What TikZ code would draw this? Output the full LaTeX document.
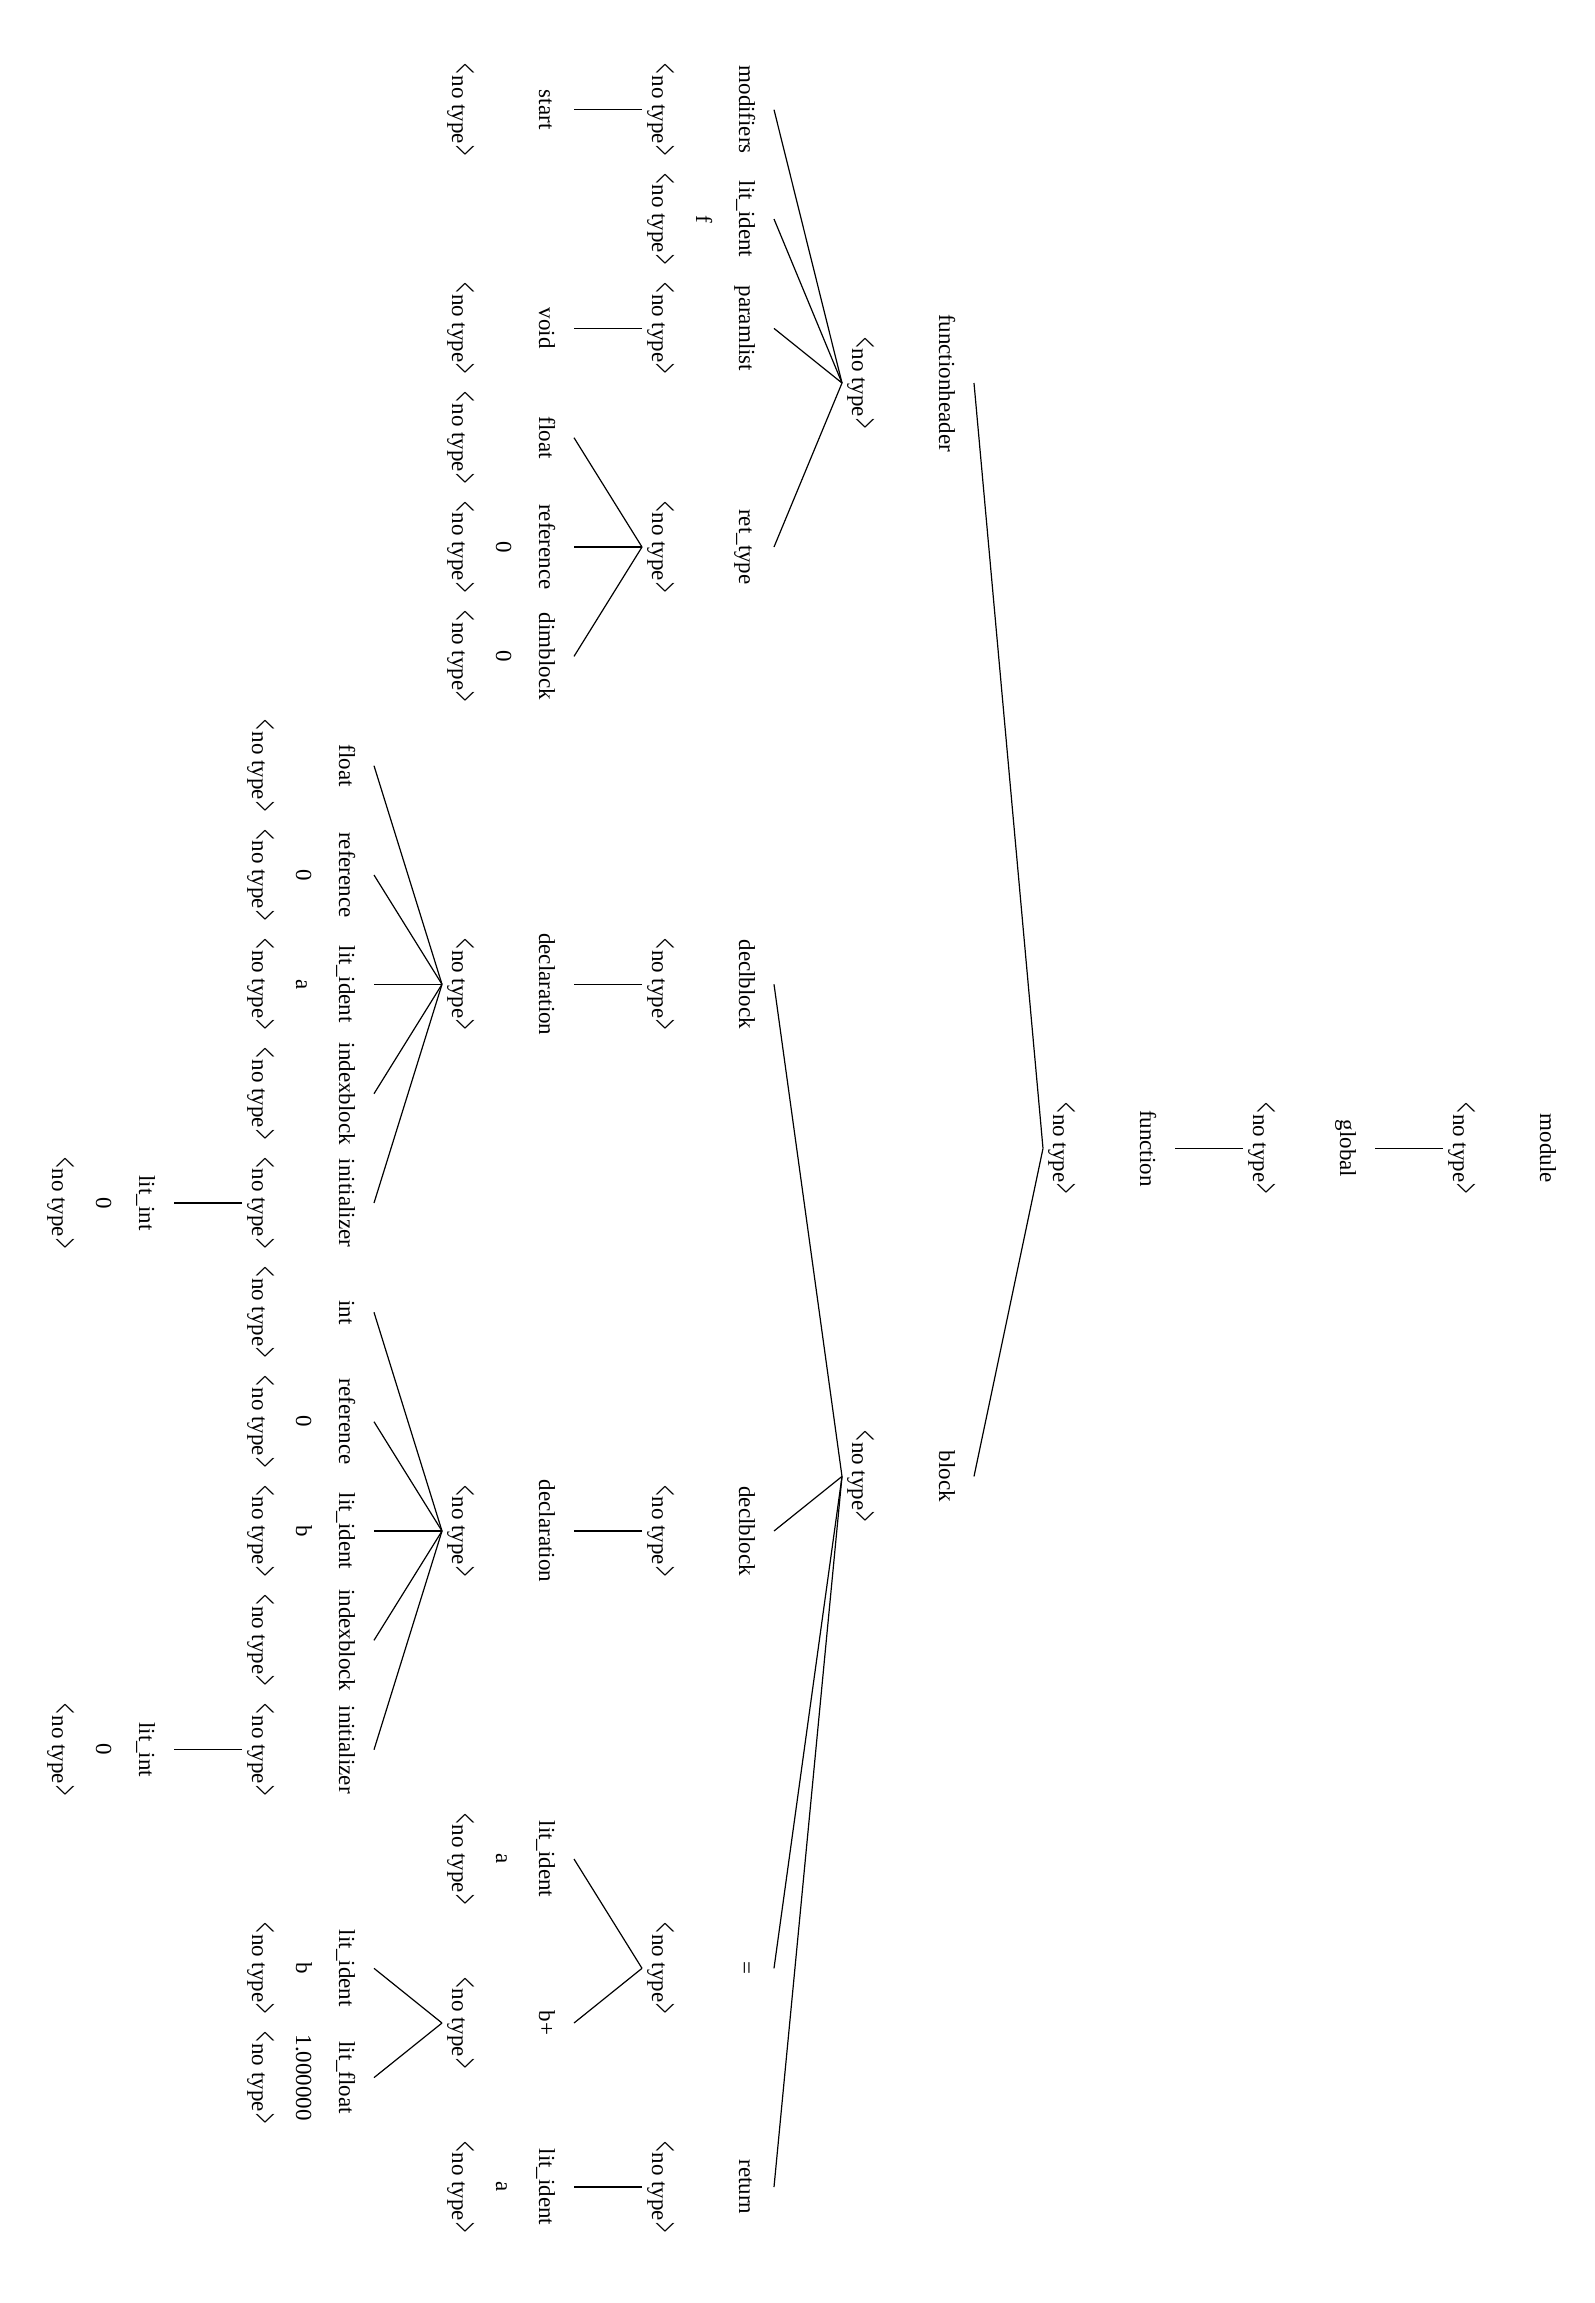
\documentclass[tikz,border=0pt]{standalone}
\usepackage{graphicx}
\usepackage{fontspec}
\setmainfont{Liberation Serif}
\newcommand{\notype}{\makebox[0.564em]{\scalebox{0.8}[1.7]{<}}no type\makebox[0.564em]{\scalebox{0.8}[1.7]{>}}}

\tikzset{
  lbl/.style={rotate=-90, anchor=base, inner sep=0pt, text height=8bp, text depth=2.5bp, font=\fontsize{11.5bp}{14bp}\selectfont},
  nm/.style={lbl, outer sep=9.5bp},
  ty/.style={lbl, outer sep=2.5bp},
  val/.style={lbl},
  ln/.style={line width=0.6bp}
}

\begin{document}
\begin{tikzpicture}[x=0.5bp, y=-0.5bp]
\useasboundingbox (0,0) rectangle (1594,2303);
% root chain
\node[nm] (modu) at (1540,1148.4) {module};
\node[ty] (modut) at (1453,1148.4) {\notype};
\node[nm] (glob) at (1340,1148.4) {global};
\node[ty] (globt) at (1253,1148.4) {\notype};
\node[nm] (func) at (1140,1148.4) {function};
\node[ty] (funct) at (1053,1148.4) {\notype};
% header and block
\node[nm] (fhead) at (939,383) {functionheader};
\node[ty] (fheadt) at (852,383) {\notype};
\node[nm] (blk) at (939,1476.4) {block};
\node[ty] (blkt) at (852,1476.4) {\notype};
% level 4
\node[nm] (modf) at (739,109.7) {modifiers};
\node[ty] (modft) at (652,109.7) {\notype};
\node[nm] (fid) at (739,219) {lit\_ident};
\node[val] (fidv) at (696,219) {f};
\node[ty] (fidt) at (652,219) {\notype};
\node[nm] (plist) at (739,328.4) {paramlist};
\node[ty] (plistt) at (652,328.4) {\notype};
\node[nm] (rtype) at (739,547) {ret\_type};
\node[ty] (rtypet) at (652,547) {\notype};
\node[nm] (dblk1) at (739,984.3) {declblock};
\node[ty] (dblk1t) at (652,984.3) {\notype};
\node[nm] (dblk2) at (739,1531) {declblock};
\node[ty] (dblk2t) at (652,1531) {\notype};
\node[nm] (asgn) at (739,1968.3) {=};
\node[ty] (asgnt) at (652,1968.3) {\notype};
\node[nm] (ret) at (739,2187) {return};
\node[ty] (rett) at (652,2187) {\notype};
% level 5
\node[nm] (start) at (539,109.7) {start};
\node[ty] (startt) at (452,109.7) {\notype};
\node[nm] (void) at (539,328.4) {void};
\node[ty] (voidt) at (452,328.4) {\notype};
\node[nm] (rfl) at (539,437.7) {float};
\node[ty] (rflt) at (452,437.7) {\notype};
\node[nm] (rref) at (539,547) {reference};
\node[val] (rrefv) at (496,547) {0};
\node[ty] (rreft) at (452,547) {\notype};
\node[nm] (rdim) at (539,656.4) {dimblock};
\node[val] (rdimv) at (496,656.4) {0};
\node[ty] (rdimt) at (452,656.4) {\notype};
\node[nm] (decl1) at (539,984.3) {declaration};
\node[ty] (decl1t) at (452,984.3) {\notype};
\node[nm] (decl2) at (539,1531) {declaration};
\node[ty] (decl2t) at (452,1531) {\notype};
\node[nm] (ida) at (539,1859) {lit\_ident};
\node[val] (idav) at (496,1859) {a};
\node[ty] (idat) at (452,1859) {\notype};
\node[nm] (bplus) at (539,2023) {b+};
\node[ty] (bplust) at (452,2023) {\notype};
\node[nm] (reta) at (539,2187) {lit\_ident};
\node[val] (retav) at (496,2187) {a};
\node[ty] (retat) at (452,2187) {\notype};
% level 6
\node[nm] (fl1) at (339,765.7) {float};
\node[ty] (fl1t) at (252,765.7) {\notype};
\node[nm] (rf1) at (339,875) {reference};
\node[val] (rf1v) at (296,875) {0};
\node[ty] (rf1t) at (252,875) {\notype};
\node[nm] (id1) at (339,984.3) {lit\_ident};
\node[val] (id1v) at (296,984.3) {a};
\node[ty] (id1t) at (252,984.3) {\notype};
\node[nm] (ix1) at (339,1093.7) {indexblock};
\node[ty] (ix1t) at (252,1093.7) {\notype};
\node[nm] (in1) at (339,1203) {initializer};
\node[ty] (in1t) at (252,1203) {\notype};
\node[nm] (it2) at (339,1312.3) {int};
\node[ty] (it2t) at (252,1312.3) {\notype};
\node[nm] (rf2) at (339,1421.7) {reference};
\node[val] (rf2v) at (296,1421.7) {0};
\node[ty] (rf2t) at (252,1421.7) {\notype};
\node[nm] (id2) at (339,1531) {lit\_ident};
\node[val] (id2v) at (296,1531) {b};
\node[ty] (id2t) at (252,1531) {\notype};
\node[nm] (ix2) at (339,1640.3) {indexblock};
\node[ty] (ix2t) at (252,1640.3) {\notype};
\node[nm] (in2) at (339,1749.7) {initializer};
\node[ty] (in2t) at (252,1749.7) {\notype};
\node[nm] (idb) at (339,1968.3) {lit\_ident};
\node[val] (idbv) at (296,1968.3) {b};
\node[ty] (idbt) at (252,1968.3) {\notype};
\node[nm] (lflt) at (339,2077.6) {lit\_float};
\node[val] (lfltv) at (296,2077.6) {1.000000};
\node[ty] (lfltt) at (252,2077.6) {\notype};
% level 7
\node[nm] (li1) at (139,1203) {lit\_int};
\node[val] (li1v) at (96,1203) {0};
\node[ty] (li1t) at (52,1203) {\notype};
\node[nm] (li2) at (139,1749.7) {lit\_int};
\node[val] (li2v) at (96,1749.7) {0};
\node[ty] (li2t) at (52,1749.7) {\notype};
% edges
\draw[ln] (modut.south) -- (glob.north);
\draw[ln] (globt.south) -- (func.north);
\draw[ln] (funct.south) -- (fhead.north);
\draw[ln] (funct.south) -- (blk.north);
\draw[ln] (fheadt.south) -- (modf.north);
\draw[ln] (fheadt.south) -- (fid.north);
\draw[ln] (fheadt.south) -- (plist.north);
\draw[ln] (fheadt.south) -- (rtype.north);
\draw[ln] (blkt.south) -- (dblk1.north);
\draw[ln] (blkt.south) -- (dblk2.north);
\draw[ln] (blkt.south) -- (asgn.north);
\draw[ln] (blkt.south) -- (ret.north);
\draw[ln] (modft.south) -- (start.north);
\draw[ln] (plistt.south) -- (void.north);
\draw[ln] (rtypet.south) -- (rfl.north);
\draw[ln] (rtypet.south) -- (rref.north);
\draw[ln] (rtypet.south) -- (rdim.north);
\draw[ln] (dblk1t.south) -- (decl1.north);
\draw[ln] (dblk2t.south) -- (decl2.north);
\draw[ln] (asgnt.south) -- (ida.north);
\draw[ln] (asgnt.south) -- (bplus.north);
\draw[ln] (rett.south) -- (reta.north);
\draw[ln] (decl1t.south) -- (fl1.north);
\draw[ln] (decl1t.south) -- (rf1.north);
\draw[ln] (decl1t.south) -- (id1.north);
\draw[ln] (decl1t.south) -- (ix1.north);
\draw[ln] (decl1t.south) -- (in1.north);
\draw[ln] (decl2t.south) -- (it2.north);
\draw[ln] (decl2t.south) -- (rf2.north);
\draw[ln] (decl2t.south) -- (id2.north);
\draw[ln] (decl2t.south) -- (ix2.north);
\draw[ln] (decl2t.south) -- (in2.north);
\draw[ln] (bplust.south) -- (idb.north);
\draw[ln] (bplust.south) -- (lflt.north);
\draw[ln] (in1t.south) -- (li1.north);
\draw[ln] (in2t.south) -- (li2.north);
\end{tikzpicture}
\end{document}
